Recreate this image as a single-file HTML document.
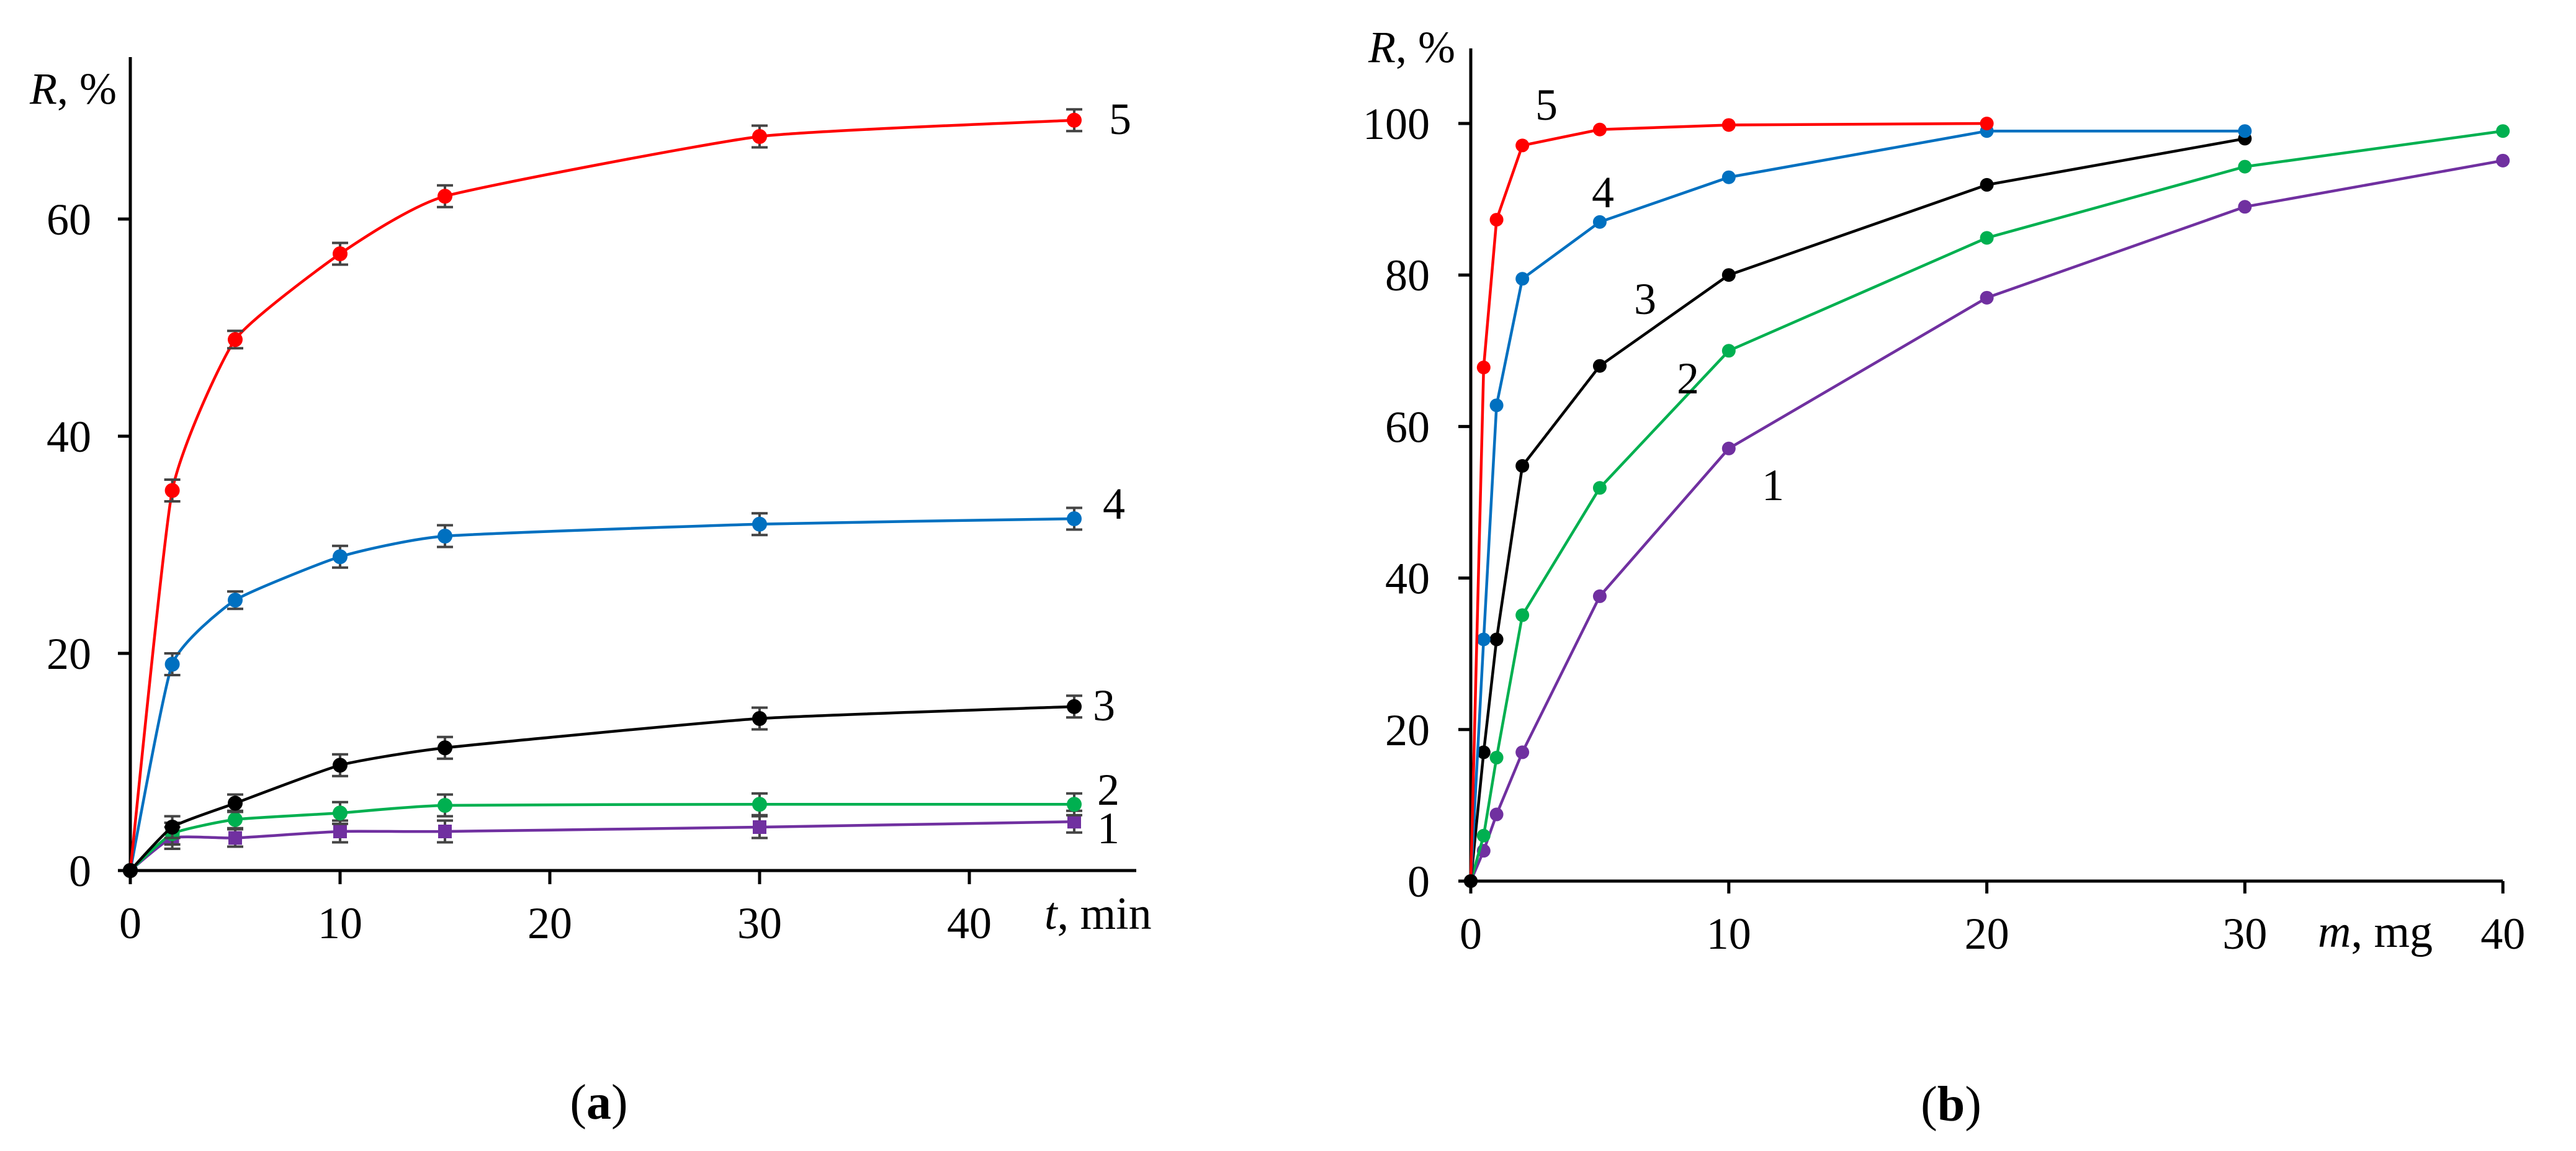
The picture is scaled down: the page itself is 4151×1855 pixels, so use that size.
<!DOCTYPE html>
<html><head><meta charset="utf-8">
<style>
html,body{margin:0;padding:0;background:#fff;}
svg{display:block;font-family:"Liberation Serif",serif;}
</style></head>
<body>
<svg id="fig" width="4151" height="1855" viewBox="0 0 4151 1855" xmlns="http://www.w3.org/2000/svg">
<g id="chartA"></g>
<g id="chartB"></g>
</svg>
<script>
// ---------- Chart (a) data ----------
const aTimes = [0, 2, 5, 10, 15, 30, 45];
const aS1 = [0, 3.0, 3.0, 3.6, 3.6, 4.0, 4.5];
const aS2 = [0, 3.4, 4.7, 5.3, 6.0, 6.1, 6.1];
const aS3 = [0, 4.0, 6.2, 9.7, 11.3, 14.0, 15.1];
const aS4 = [0, 19.0, 24.9, 28.9, 30.8, 31.9, 32.4];
const aS5 = [0, 35.0, 48.9, 56.8, 62.1, 67.6, 69.1];
const aErr = [0, 1.0, 0.8, 1.0, 1.0, 1.0, 1.0];
const aXTicks = [0, 10, 20, 30, 40];
const aYTicks = [0, 20, 40, 60];
const aLabels = ["1", "2", "3", "4", "5"];

// ---------- Chart (b) data ----------
const bM1 = [0, 0.5, 1, 2, 5, 10, 20, 30, 40];
const bS1 = [0, 4.0, 8.8, 17.0, 37.6, 57.1, 77.0, 89.0, 95.1];
const bM2 = [0, 0.5, 1, 2, 5, 10, 20, 30, 40];
const bS2 = [0, 6.0, 16.3, 35.1, 51.9, 70.0, 84.9, 94.3, 99.0];
const bM3 = [0, 0.5, 1, 2, 5, 10, 20, 30];
const bS3 = [0, 17.0, 31.9, 54.8, 68.0, 80.0, 91.9, 98.0];
const bM4 = [0, 0.5, 1, 2, 5, 10, 20, 30];
const bS4 = [0, 31.9, 62.8, 79.5, 87.0, 92.9, 99.0, 99.0];
const bM5 = [0, 0.5, 1, 2, 5, 10, 20];
const bS5 = [0, 67.8, 87.3, 97.1, 99.2, 99.8, 100.0];
const bXTicks = [0, 10, 20, 30, 40];
const bYTicks = [0, 20, 40, 60, 80, 100];

const COLORS = ["#7030a0", "#00b050", "#000000", "#0070c0", "#ff0000"];
const NS = "http://www.w3.org/2000/svg";

function mk(tag, attrs, parent) {
  const e = document.createElementNS(NS, tag);
  for (const k in attrs) e.setAttribute(k, attrs[k]);
  parent.appendChild(e);
  return e;
}
function txt(s, x, y, size, anchor, parent) {
  const t = mk("text", {x: x, y: y, "font-size": size, "text-anchor": anchor, fill: "#000"}, parent);
  t.textContent = s;
  return t;
}
function smoothPath(pts) {
  let d = "M" + pts[0][0] + "," + pts[0][1];
  const k = 0.08;
  for (let i = 0; i < pts.length - 1; i++) {
    const p0 = pts[Math.max(0, i - 1)], p1 = pts[i], p2 = pts[i + 1], p3 = pts[Math.min(pts.length - 1, i + 2)];
    const c1x = p1[0] + (p2[0] - p0[0]) * k, c1y = p1[1] + (p2[1] - p0[1]) * k;
    const c2x = p2[0] - (p3[0] - p1[0]) * k, c2y = p2[1] - (p3[1] - p1[1]) * k;
    d += " C" + c1x + "," + c1y + " " + c2x + "," + c2y + " " + p2[0] + "," + p2[1];
  }
  return d;
}

// ---------- Chart (a) ----------
(function () {
  const g = document.getElementById("chartA");
  const x0 = 210, y0 = 1403, xPer = 33.8, yPer = 17.5;
  const X = v => x0 + v * xPer;
  const Y = v => y0 - v * yPer;
  const ax = mk("line", {x1: x0, y1: 92, x2: x0, y2: y0, stroke: "#000", "stroke-width": 5}, g);
  
  
  const axx = mk("line", {x1: x0 - 20, y1: y0, x2: 1831, y2: y0, stroke: "#000", "stroke-width": 5}, g);
  
  
  aYTicks.forEach(v => {
    mk("line", {x1: x0 - 20, y1: Y(v), x2: x0, y2: Y(v), stroke: "#000", "stroke-width": 5}, g);
    const t = txt(String(v), 147, Y(v) + 25, 72, "end", g);
    
    
  });
  aXTicks.forEach(v => {
    mk("line", {x1: X(v), y1: y0, x2: X(v), y2: y0 + 22, stroke: "#000", "stroke-width": 5}, g);
    const t = txt(String(v), X(v), 1512, 72, "middle", g);
    
    
  });
  const yt = txt("", 48, 167, 72, "start", g);
  yt.innerHTML = '<tspan font-style="italic">R</tspan>, %';
  
  
  const xt = txt("", 1683, 1497, 74, "start", g);
  xt.innerHTML = '<tspan font-style="italic">t</tspan>, min';
  
  

  const series = [aS1, aS2, aS3, aS4, aS5];
  const labelPos = [[1786, 1334], [1786, 1272], [1779, 1136], [1795, 811], [1805, 191]];
  series.forEach((s, i) => {
    const sg = mk("g", {}, g);
    
    
    const pts = aTimes.map((t, j) => [X(t), Y(s[j])]);
    mk("path", {d: smoothPath(pts), fill: "none", stroke: COLORS[i], "stroke-width": 4.5}, sg);
    aTimes.forEach((t, j) => {
      if (j > 0) {
        const e = aErr[j];
        const cx = X(t), ya = Y(s[j] + e), yb = Y(s[j] - e);
        mk("path", {d: "M" + cx + "," + ya + "V" + yb + "M" + (cx - 13) + "," + ya + "H" + (cx + 13) + "M" + (cx - 13) + "," + yb + "H" + (cx + 13),
          stroke: "#444", "stroke-width": 4, fill: "none"}, sg);
      }
      let m;
      if (i === 0 && j > 0) m = mk("rect", {x: X(t) - 11, y: Y(s[j]) - 11, width: 22, height: 22, fill: COLORS[i]}, sg);
      else m = mk("circle", {cx: X(t), cy: Y(s[j]), r: 12, fill: j === 0 ? "#000" : COLORS[i]}, sg);
      
      
    });
    const lt = txt(aLabels[i], labelPos[i][0], labelPos[i][1] + 25, 72, "middle", g);
    
    
  });
  const cap = txt("", 965, 1803, 80, "middle", g);
  cap.innerHTML = '(<tspan font-weight="bold">a</tspan>)';
  
  
})();

// ---------- Chart (b) ----------
(function () {
  const g = document.getElementById("chartB");
  const x0 = 2370, y0 = 1420, xPer = 41.58, yPer = 12.21;
  const X = v => x0 + v * xPer;
  const Y = v => y0 - v * yPer;
  const ay = mk("line", {x1: x0, y1: 78, x2: x0, y2: y0, stroke: "#000", "stroke-width": 5}, g);
  
  
  const axx = mk("line", {x1: x0 - 20, y1: y0, x2: X(40), y2: y0, stroke: "#000", "stroke-width": 5}, g);
  
  
  bYTicks.forEach(v => {
    mk("line", {x1: x0 - 20, y1: Y(v), x2: x0, y2: Y(v), stroke: "#000", "stroke-width": 5}, g);
    const t = txt(String(v), 2304, Y(v) + 25, 72, "end", g);
    
    
  });
  bXTicks.forEach(v => {
    mk("line", {x1: X(v), y1: y0, x2: X(v), y2: y0 + 20, stroke: "#000", "stroke-width": 5}, g);
    const t = txt(String(v), X(v), 1529, 72, "middle", g);
    
    
  });
  const yt = txt("", 2205, 100, 72, "start", g);
  yt.innerHTML = '<tspan font-style="italic">R</tspan>, %';
  
  
  const xt = txt("", 3735, 1526, 74, "start", g);
  xt.innerHTML = '<tspan font-style="italic">m</tspan>, mg';
  
  

  const ms = [bM1, bM2, bM3, bM4, bM5];
  const ss = [bS1, bS2, bS3, bS4, bS5];
  const labelPos = [[2857, 781], [2720, 609], [2651, 481], [2583, 309], [2492, 168]];
  ss.forEach((s, i) => {
    const sg = mk("g", {}, g);
    
    
    const pts = ms[i].map((m, j) => X(m) + "," + Y(s[j])).join(" ");
    mk("polyline", {points: pts, fill: "none", stroke: COLORS[i], "stroke-width": 4.5}, sg);
    ms[i].forEach((m, j) => {
      const c = mk("circle", {cx: X(m), cy: Y(s[j]), r: 11, fill: j === 0 ? "#000" : COLORS[i]}, sg);
      
      
    });
    const lt = txt(String(i + 1), labelPos[i][0], labelPos[i][1] + 25, 72, "middle", g);
    
    
  });
  const cap = txt("", 3144, 1806, 80, "middle", g);
  cap.innerHTML = '(<tspan font-weight="bold">b</tspan>)';
  
  
})();
</script>
</body></html>
